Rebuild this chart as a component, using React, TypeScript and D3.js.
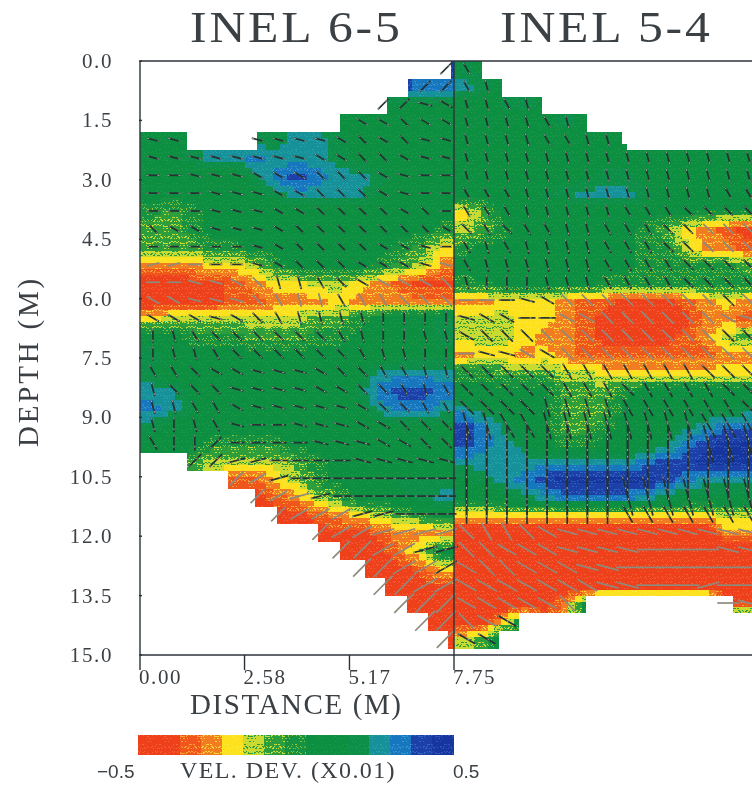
import * as d3 from "d3";

// velocity deviation classes, 0 (most negative) to e (most positive), "." = no coverage
const leftLevels = [
  "..............d", "............dcc", "...........9999", ".........999999",
  "99...aabba99999", "99abbcbbba99999", "88888acdcbba999", "888889abbbb9999",
  "767888888888888", "667888888888887", "666778888888764", "333445788887653",
  "001123445543211", "011122333433333", "45555555667899a", "98777666778999a",
  "a98888888888999", "a8888888889bbbb", "bb98888888acddc", "cba88888889bccb",
  "a98888888889999", "998777788888888", "..6555567888888", "....22457889aaa",
  ".....12356889ab", "......112345678", "........1112333", ".........111358",
  "..........11124", "...........1111", "............000", ".............00",
  "..............0",
];
const rightLevels = [
  "a9.............", "ba9............", "88aa9..........", "88889a9........",
  "88888899.......", "888888899999999", "8888899aa999999", "8888aabbba99999",
  "468888888888777", "567888888764321", "788888888775332", "899999888777776",
  "778888877777777", "334443221112343", "555443211111332", "555433211112356",
  "344343222222233", "776665544444444", "888886667888888", "b9998666899999a",
  "dca98667889abcc", "dcba877889acdee", "bbbbbbbbbcddeee", "9abcdeeeeedcbbb",
  "889abccccba9999", "444444444444455", "000000000000033", "000000000000000",
  "000000000000000", "000000000000000", "0000138cccccc22", "0148.........cc",
  "569............",
];

// anisotropy direction per cell: 0-6 = 0..90 deg, a-e = -15..-75 deg
const leftAngles = [
  "..............c", ".............cc", "...........cc12", "..........22322",
  "11...1111232311", "111111112233211", "001112223332100", "000111223332100",
  "000111223333230", "322111233333332", "000001233332210", "aa0001233322211",
  "001123554322223", "221113455444333", "222123455556666", "654333333456655",
  "655433333345566", "443221112334455", "533311112233454", "554421111123344",
  "565410011122333", "466c00001112233", "..ccaa000011111", "....cba00000000",
  ".....cbaa000000", "......cbbbaa000", "........cbbaaaa", ".........ccbbaa",
  "..........ccbbb", "...........ccbb", "............ccc", ".............cc",
  "..............c",
];
const rightAngles = [
  "4..............", "45.............", "5545...........", "555545.........",
  "55554455.......", "555555555555555", "555555555555555", "444555555555544",
  "444555554443333", "343445544433333", "454555544433333", "455555544443333",
  "566655544443333", "000123333333333", "122002233333321", "233333333333333",
  "011223333333333", "333334444444333", "333334443444433", "333355554444443",
  "554455555555444", "666666666666555", "666666666666666", "666666666666666",
  "666666665555555", "666666664444444", "344321111111111", "332221111000011",
  "233222110000000", "222222211000a00", "222223.......01", "322............",
  "22.............",
];
// anisotropy magnitude per depth row
const leftMagnitude = [
  0.32, 0.3, 0.3, 0.26, 0.24, 0.26, 0.26, 0.26, 0.24, 0.24, 0.24,
  0.26, 0.28, 0.28, 0.28, 0.28, 0.28, 0.28, 0.28, 0.28, 0.3, 0.32,
  0.36, 0.4, 0.4, 0.42, 0.46, 0.5, 0.52, 0.54, 0.56, 0.56, 0.52,
];
const rightMagnitude = [
  0.26, 0.26, 0.26, 0.26, 0.26, 0.26, 0.26, 0.26, 0.26, 0.28, 0.3,
  0.3, 0.3, 0.32, 0.34, 0.34, 0.34, 0.36, 0.36, 0.42, 0.6, 0.8,
  0.9, 0.9, 0.8, 0.4, 0.42, 0.44, 0.46, 0.46, 0.44, 0.44, 0.4,
];

// coverage limits per depth row, metres
const leftStart = [
  7.68, 6.61, 6.1, 4.94, 0, 0, 0, 0, 0, 0, 0, 0, 0, 0, 0, 0, 0, 0, 0, 0, 0, 0,
  1.16, 2.17, 2.84, 3.38, 4.39, 4.94, 5.55, 6.05, 6.59, 7.11, 7.6,
];
const rightEnd = [
  8.47, 8.98, 10.01, 11.16, 12.2, 15.5, 15.5, 15.5, 15.5, 15.5, 15.5, 15.5, 15.5,
  15.5, 15.5, 15.5, 15.5, 15.5, 15.5, 15.5, 15.5, 15.5, 15.5, 15.5, 15.5, 15.5,
  15.5, 15.5, 15.5, 15.5, 15.5, 9.42, 8.9,
];
const coverageGaps = [
  { row: 4, from: 1.16, to: 2.89 },
  { row: 30, from: 11.14, to: 14.91 },
];

const depthTicks = [0, 1.5, 3, 4.5, 6, 7.5, 9, 10.5, 12, 13.5, 15];
const distanceTicks = [0, 2.58, 5.17, 7.75];
const titles = ["INEL 6-5", "INEL 5-4"];

const ROW_M = 0.45;
const COL_M = 7.75 / 15;
const SUB = 3; // sub-cells per cell when shading
const TILE = 17;

const SERIF = "'Liberation Serif', 'DejaVu Serif', serif";
const INK = "#3a3f44";

// base, speck, specks per tile
const swatches: [string, string, number][] = [
  ["#ef3f1d", "#f4643a", 30], ["#ef3f1d", "#f4643a", 30],
  ["#f0551f", "#f6a333", 70], ["#f27c22", "#fbd432", 70],
  ["#fde11c", "#fbe94a", 30], ["#c9da30", "#2f9e3d", 90], ["#2f9e3d", "#c8dc38", 70],
  ["#12923f", "#8fc23a", 36], ["#0c8f42", "#1c9a48", 30], ["#0c8f42", "#1c9a48", 30], ["#0d8f4a", "#1c9a4f", 30],
  ["#14919a", "#2ba3a8", 40], ["#1677bf", "#3b93cf", 50],
  ["#1b3fa8", "#2f66c0", 60], ["#16359e", "#2a55b5", 60],
];
const speckAt = d3.range(120).map((k) => [(k * 11 + ((k * k) % 5)) % TILE, (k * k * 7 + 3 * k) % TILE]);

const x = d3.scaleLinear().domain([0, 7.75, 15.5]).range([140, 454, 756]);
const y = d3.scaleLinear().domain([0, 15]).range([61, 655]);
const legendX = d3.scaleLinear().domain([-0.5, 0.5]).range([138, 453]);
const fill = d3
  .scaleQuantize<string>()
  .domain([-0.5, 0.5])
  .range(swatches.map((_, i) => `url(#lvl${i})`));
const vecLen = d3.scaleLinear().domain([0, 1]).range([0, 50]);

const toDev = (c: string) => (c === "." ? null : -0.5 + (parseInt(c, 16) + 0.5) / 15);
const toAngle = (c: string) =>
  c >= "0" && c <= "6" ? +c * 15 : -(c.charCodeAt(0) - 96) * 15;

function shade(levels: string[], d0: number, rowSpan: (r: number) => number[][]) {
  const grid = levels.map((row) => Array.from(row, toDev));
  const nRow = grid.length;
  const nCol = grid[0].length;
  const at = (fr: number, fc: number) => {
    const r0 = Math.floor(fr);
    const c0 = Math.floor(fc);
    let sum = 0;
    let wt = 0;
    for (const [r, wr] of [[r0, 1 - (fr - r0)], [r0 + 1, fr - r0]]) {
      for (const [c, wc] of [[c0, 1 - (fc - c0)], [c0 + 1, fc - c0]]) {
        const rr = Math.max(0, Math.min(nRow - 1, r));
        const cc = Math.max(0, Math.min(nCol - 1, c));
        const v = grid[rr][cc];
        if (v !== null && wr * wc > 0) {
          sum += v * wr * wc;
          wt += wr * wc;
        }
      }
    }
    return wt > 0 ? sum / wt : null;
  };

  const rects: { x0: number; x1: number; y0: number; y1: number; f: string }[] = [];
  for (let r = 0; r < nRow; r++) {
    const spans = rowSpan(r);
    for (let j = 0; j < SUB; j++) {
      const y0 = Math.round(y(r * ROW_M + (j * ROW_M) / SUB));
      const y1 = Math.round(y(r * ROW_M + ((j + 1) * ROW_M) / SUB));
      const fr = r + (j + 0.5) / SUB - 0.5;
      let runStart = 0;
      let runFill: string | null = null;
      const flush = (end: number) => {
        if (runFill === null) return;
        for (const [a, b] of spans) {
          const x0 = Math.max(a, runStart);
          const x1 = Math.min(b, end);
          if (x1 > x0) rects.push({ x0: x(x0), x1: x(x1), y0, y1, f: runFill });
        }
      };
      for (let k = 0; k < nCol * SUB; k++) {
        const v = at(fr, (k + 0.5) / SUB - 0.5);
        const f = v === null ? null : fill(v);
        if (f !== runFill) {
          const d = d0 + (k * COL_M) / SUB;
          flush(d);
          runStart = d;
          runFill = f;
        }
      }
      flush(d0 + nCol * COL_M);
    }
  }
  return rects;
}

const leftSpan = (r: number) => {
  const gap = coverageGaps.find((g) => g.row === r && g.to <= 7.75);
  return gap ? [[leftStart[r], gap.from], [gap.to, 7.75]] : [[leftStart[r], 7.75]];
};
const rightSpan = (r: number) => {
  const gap = coverageGaps.find((g) => g.row === r && g.from >= 7.75);
  return gap ? [[7.75, gap.from], [gap.to, rightEnd[r]]] : [[7.75, rightEnd[r]]];
};

function vectors(angles: string[], levels: string[], mags: number[], d0: number) {
  return angles.flatMap((row, r) =>
    Array.from(row).flatMap((c, k) => {
      if (c === ".") return [];
      const a = (toAngle(c) * Math.PI) / 180;
      const half = vecLen(mags[r]) / 2;
      const cx = x(d0 + (k + 0.5) * COL_M) + 2.5;
      const cy = y((r + 0.5) * ROW_M) - 1.5;
      const lv = levels[r][k];
      const onWarm = lv !== "." && parseInt(lv, 16) <= 3;
      return [{
        x1: cx - half * Math.cos(a),
        y1: cy - half * Math.sin(a),
        x2: cx + half * Math.cos(a),
        y2: cy + half * Math.sin(a),
        warm: onWarm,
      }];
    })
  );
}

export default function App() {
  const cells = [
    ...shade(leftLevels, 0, leftSpan),
    ...shade(rightLevels, 7.75, rightSpan),
  ];
  const arrows = [
    ...vectors(leftAngles, leftLevels, leftMagnitude, 0),
    ...vectors(rightAngles, rightLevels, rightMagnitude, 7.75),
  ];
  const legendBands = d3.range(swatches.length);
  const bandW = (legendX.range()[1] - legendX.range()[0]) / swatches.length;

  return (
    <svg
      width={752}
      height={789}
      style={{ position: "absolute", left: 0, top: 0, display: "block", background: "#fff" }}
    >
      <defs>
        {swatches.map(([base, speck, count], i) => (
          <pattern key={i} id={`lvl${i}`} width={TILE} height={TILE} patternUnits="userSpaceOnUse">
            <rect width={TILE} height={TILE} fill={base} />
            {speckAt.slice(0, count).map(([sx, sy], k) => (
              <rect key={k} x={sx} y={sy} width={1} height={1} fill={speck} />
            ))}
          </pattern>
        ))}
        <filter id="scan" x="0" y="0" width="100%" height="100%">
          <feGaussianBlur stdDeviation={0.5} />
        </filter>
      </defs>

      <g filter="url(#scan)">
        {titles.map((t, i) => (
          <g key={t} transform={`translate(${i === 0 ? 190 : 500},42) scale(1.13,1)`}>
            <text fontFamily={SERIF} fontSize={44} letterSpacing={2.5} fill={INK}>
              {t}
            </text>
          </g>
        ))}

        <g shapeRendering="crispEdges">
          {cells.map((c, i) => (
            <rect key={i} x={c.x0} y={c.y0} width={c.x1 - c.x0} height={c.y1 - c.y0} fill={c.f} />
          ))}
        </g>

        {arrows.map((v, i) => (
          <g key={i}>
            <line
              x1={v.x1} y1={v.y1} x2={v.x2} y2={v.y2}
              stroke={v.warm ? "#8e8a7c" : "#263231"}
              strokeWidth={1.7}
            />
            {v.warm ? null : (
              <line
                x1={v.x1} y1={v.y1} x2={v.x2} y2={v.y2}
                stroke="#a5aea6"
                strokeWidth={1}
                strokeDasharray="2 9"
              />
            )}
          </g>
        ))}

        <g stroke="#2c3338" strokeWidth={1.4} fill="none">
          <line x1={x(0)} x2={752} y1={y(0)} y2={y(0)} />
          <line x1={x(0)} x2={752} y1={y(15)} y2={y(15)} />
          <line x1={x(0)} x2={x(0)} y1={y(0)} y2={y(15)} />
          <line x1={x(7.75)} x2={x(7.75)} y1={y(0)} y2={y(15)} />
          {distanceTicks.map((t) => (
            <line key={t} x1={x(t)} x2={x(t)} y1={y(15)} y2={y(15) + 15} />
          ))}
          {depthTicks.map((t) => (
            <line key={t} x1={x(0) - 1} x2={x(0) + 2} y1={y(t)} y2={y(t)} />
          ))}
        </g>

        <g fontFamily={SERIF} fontSize={21} fill={INK} letterSpacing={1.6}>
          {depthTicks.map((t) => (
            <text key={t} x={113} y={y(t) + 7} textAnchor="end">
              {t.toFixed(1)}
            </text>
          ))}
          {distanceTicks.map((t) => (
            <text key={t} x={x(t) - 1} y={684}>
              {t.toFixed(2)}
            </text>
          ))}
        </g>

        <text
          transform="translate(38,447) rotate(-90)"
          fontFamily={SERIF}
          fontSize={29}
          letterSpacing={2.8}
          fill={INK}
        >
          DEPTH (M)
        </text>
        <text x={190} y={714} fontFamily={SERIF} fontSize={29} letterSpacing={1.6} fill={INK}>
          DISTANCE (M)
        </text>

        <g shapeRendering="crispEdges">
          {legendBands.map((i) => (
            <rect
              key={i}
              x={legendX(-0.5) + i * bandW}
              y={735}
              width={bandW + 0.5}
              height={20}
              fill={fill(-0.5 + (i + 0.5) / swatches.length)}
            />
          ))}
        </g>
        <text x={97} y={778} fontFamily="'Liberation Sans', sans-serif" fontSize={19} fill={INK}>
          −0.5
        </text>
        <text x={180} y={778} fontFamily={SERIF} fontSize={24} letterSpacing={1.4} fill={INK}>
          VEL. DEV. (X0.01)
        </text>
        <text x={453} y={778} fontFamily="'Liberation Sans', sans-serif" fontSize={19} fill={INK}>
          0.5
        </text>
      </g>
    </svg>
  );
}
